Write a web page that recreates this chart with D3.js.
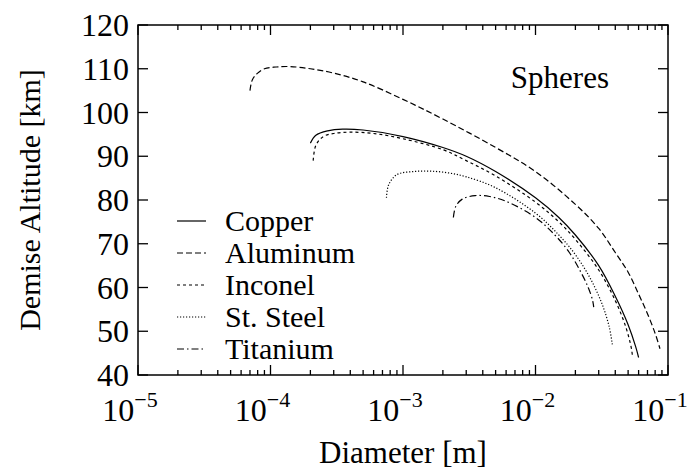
<!DOCTYPE html>
<html><head><meta charset="utf-8">
<script src="https://cdn.jsdelivr.net/npm/d3@7"></script>
<style>body{margin:0;background:#fff}text{font-family:"Liberation Serif","Times New Roman",serif;fill:#000}</style>
</head><body>
<script>
const W = 691, H = 471;
const M = { left: 138, right: 23, top: 25, bottom: 96 };

// series: [diameter m, demise altitude km]
const materials = ["Copper", "Aluminum", "Inconel", "St. Steel", "Titanium"];
const dashes = [null, "6,3", "3,3", "1.2,1.8", "7,3,1.5,3"];
const copper = [[2e-4,93],[2.2e-4,94.8],[2.7e-4,95.8],[3.5e-4,96.2],[5e-4,96],[1e-3,94.5],[2e-3,92],[3e-3,90],[5e-3,86.5],[1e-2,80.5],[1.5e-2,76],[2e-2,72],[3e-2,65],[4e-2,58],[5e-2,51.5],[5.7e-2,46.5],[6e-2,44]];
const aluminum = [[7e-5,105],[7.3e-5,107.5],[8e-5,109],[9e-5,110],[1.1e-4,110.4],[1.4e-4,110.5],[2e-4,110],[3e-4,109],[5e-4,107],[1e-3,103],[2e-3,98.5],[5e-3,92],[1e-2,86.5],[2e-2,79],[3e-2,73.5],[4e-2,68],[5e-2,63.5],[6e-2,58.5],[7e-2,54],[8e-2,49.5],[8.7e-2,46]];
const inconel = [[2.1e-4,89],[2.2e-4,92.5],[2.5e-4,94.5],[3e-4,95.2],[4e-4,95.5],[6e-4,95.2],[1e-3,94],[2e-3,91.5],[3e-3,89],[5e-3,85.5],[1e-2,79.5],[1.5e-2,75],[2e-2,71],[3e-2,64],[4e-2,57],[4.8e-2,51],[5.3e-2,46],[5.4e-2,44]];
const steel = [[7.5e-4,80.5],[7.8e-4,83.5],[9e-4,85.8],[1.2e-3,86.5],[1.6e-3,86.6],[2.2e-3,86.2],[3e-3,85.3],[5e-3,82.8],[1e-2,77],[1.5e-2,72],[2e-2,67.5],[2.6e-2,62],[3.2e-2,56],[3.6e-2,51],[3.8e-2,47]];
const titanium = [[2.4e-3,76],[2.5e-3,78.5],[2.8e-3,80.2],[3.5e-3,81],[4.5e-3,80.8],[6e-3,79.7],[1e-2,76],[1.4e-2,72],[1.8e-2,68],[2.2e-2,63.5],[2.5e-2,60],[2.7e-2,57],[2.75e-2,55.5]];
const series = [copper, aluminum, inconel, steel, titanium];
const yTicks = [40, 50, 60, 70, 80, 90, 100, 110, 120];
const xTicks = [1e-5, 1e-4, 1e-3, 1e-2, 1e-1];

const svg = d3.select("body").append("svg").attr("width", W).attr("height", H);
const x = d3.scaleLog().domain([1e-5, 1e-1]).range([M.left, W - M.right]);
const y = d3.scaleLinear().domain([40, 120]).range([H - M.bottom, M.top]);

// minor ticks
const minor = [];
for (let e = -5; e < -1; e++) for (let k = 2; k <= 9; k++) minor.push(k * Math.pow(10, e));

const g = svg.append("g").attr("stroke", "#000").attr("stroke-width", 1.3);
const tickX = (vals, len) => {
  g.selectAll(null).data(vals).join("line").attr("x1", d => x(d)).attr("x2", d => x(d))
    .attr("y1", y(40)).attr("y2", y(40) - len);
  g.selectAll(null).data(vals).join("line").attr("x1", d => x(d)).attr("x2", d => x(d))
    .attr("y1", y(120)).attr("y2", y(120) + len);
};
tickX(xTicks, 10);
tickX(minor, 5);
g.selectAll(null).data(yTicks).join("line").attr("x1", x(1e-5)).attr("x2", x(1e-5) + 10)
  .attr("y1", d => y(d)).attr("y2", d => y(d));
g.selectAll(null).data(yTicks).join("line").attr("x1", x(1e-1)).attr("x2", x(1e-1) - 10)
  .attr("y1", d => y(d)).attr("y2", d => y(d));
svg.append("rect").attr("x", x(1e-5)).attr("y", y(120)).attr("width", x(1e-1) - x(1e-5))
  .attr("height", y(40) - y(120)).attr("fill", "none").attr("stroke", "#000").attr("stroke-width", 1.5);

// tick labels
svg.selectAll(null).data(yTicks).join("text").attr("x", x(1e-5) - 9).attr("y", d => y(d) + 11)
  .attr("text-anchor", "end").attr("font-size", 32).text(d => d);
const xl = svg.selectAll(null).data(xTicks).join("text").attr("x", d => x(d) - 8).attr("y", y(40) + 46)
  .attr("text-anchor", "middle").attr("font-size", 32);
xl.append("tspan").text("10");
xl.append("tspan").attr("dy", -14).attr("font-size", 22).text(d => "\u2212" + Math.round(-Math.log10(d)));

svg.append("text").attr("x", (x(1e-5) + x(1e-1)) / 2).attr("y", H - 8).attr("text-anchor", "middle")
  .attr("font-size", 31).text("Diameter [m]");
svg.append("text").attr("transform", `translate(40,${(y(40) + y(120)) / 2}) rotate(-90)`)
  .attr("text-anchor", "middle").attr("font-size", 30).text("Demise Altitude [km]");
svg.append("text").attr("x", 609).attr("y", 88).attr("text-anchor", "end").attr("font-size", 31).text("Spheres");

series.forEach((s, i) => {
  svg.append("path").attr("d", d3.line().x(d => x(d[0])).y(d => y(d[1])).curve(d3.curveCatmullRom)(s))
    .attr("fill", "none").attr("stroke", "#000").attr("stroke-width", 1.2)
    .attr("stroke-dasharray", dashes[i]);
});

// legend
materials.forEach((m, i) => {
  const yy = 221 + i * 32;
  svg.append("line").attr("x1", 177).attr("x2", 206).attr("y1", yy).attr("y2", yy)
    .attr("stroke", "#000").attr("stroke-width", 1.2).attr("stroke-dasharray", dashes[i]);
  svg.append("text").attr("x", 225).attr("y", yy + 10).attr("font-size", 30).text(m);
});
</script>
</body></html>
